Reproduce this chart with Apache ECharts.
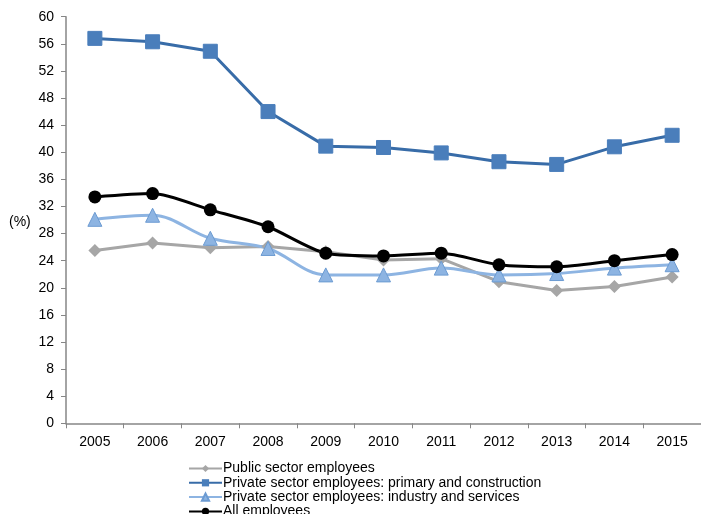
<!DOCTYPE html>
<html><head><meta charset="utf-8">
<script src="https://cdn.jsdelivr.net/npm/echarts@6/dist/echarts.min.js"></script>
<style>html,body{margin:0;padding:0;background:#fff}#c{width:701px;height:514px}</style>
</head><body><div id="c"></div>
<script>
const years = ['2005','2006','2007','2008','2009','2010','2011','2012','2013','2014','2015'];
const publicSector = [25.5, 26.6, 25.9, 26.1, 25.3, 24.1, 24.3, 20.9, 19.6, 20.2, 21.6];
const primaryConstruction = [56.8, 56.3, 54.9, 46.0, 40.9, 40.7, 39.9, 38.6, 38.2, 40.8, 42.5];
const industryServices = [30.1, 30.7, 27.3, 25.8, 21.9, 21.9, 22.9, 21.9, 22.1, 22.9, 23.4];
const allEmployees = [33.4, 33.9, 31.5, 29.0, 25.1, 24.7, 25.1, 23.4, 23.1, 24.0, 24.9];
const yTicks = [0, 60, 4];
const seriesNames = ['Public sector employees','Private sector employees: primary and construction','Private sector employees: industry and services','All employees'];

const chart = echarts.init(document.getElementById('c'), null, {renderer:'canvas'});
const font = 'Arial, "Liberation Sans", sans-serif';
chart.setOption({
  animation:false,
  backgroundColor:'#fff',
  grid:{left:66, top:16.7, bottom:90.7, right:-7.7, containLabel:false},
  graphic:[{type:'text', left:9, top:215, style:{text:'(%)', font:'14px '+font, fill:'#000'}}],
  legend:{
    orient:'vertical', left:183, top:456.5, height:80, itemGap:0.3, itemWidth:33, itemHeight:9,
    textStyle:{fontFamily:font, fontSize:14, color:'#000', lineHeight:13, padding:[0,0,0,-4]},
    data:seriesNames
  },
  xAxis:{
    type:'category', data:years, boundaryGap:true,
    axisLine:{lineStyle:{color:'#868686', width:1.5}},
    axisTick:{show:true, length:5, lineStyle:{color:'#868686'}},
    axisLabel:{fontFamily:font, fontSize:14, color:'#000', margin:12}
  },
  yAxis:{
    type:'value', min:yTicks[0], max:yTicks[1], interval:yTicks[2],
    splitLine:{show:false},
    axisLine:{show:true, lineStyle:{color:'#868686', width:1.5}},
    axisTick:{show:true, length:5, lineStyle:{color:'#868686'}},
    axisLabel:{fontFamily:font, fontSize:14, color:'#000', margin:12}
  },
  series:[
    {name:seriesNames[0], type:'line', data:publicSector, smooth:false,
     symbol:'diamond', symbolSize:13,
     lineStyle:{color:'#A6A6A6', width:3}, itemStyle:{color:'#A6A6A6'}},
    {name:seriesNames[1], type:'line', data:primaryConstruction, smooth:false,
     symbol:'rect', symbolSize:14,
     lineStyle:{color:'#386CA8', width:3}, itemStyle:{color:'#4A7EBB', borderColor:'#4A7EBB'}},
    {name:seriesNames[2], type:'line', data:industryServices, smooth:0.35,
     symbol:'triangle', symbolSize:14,
     lineStyle:{color:'#8DB4E2', width:3}, itemStyle:{color:'#8DB4E2', borderColor:'#6C9BD2', borderWidth:1}},
    {name:seriesNames[3], type:'line', data:allEmployees, smooth:0.25,
     symbol:'circle', symbolSize:13,
     lineStyle:{color:'#000', width:3}, itemStyle:{color:'#000'}}
  ]
});
</script></body></html>
